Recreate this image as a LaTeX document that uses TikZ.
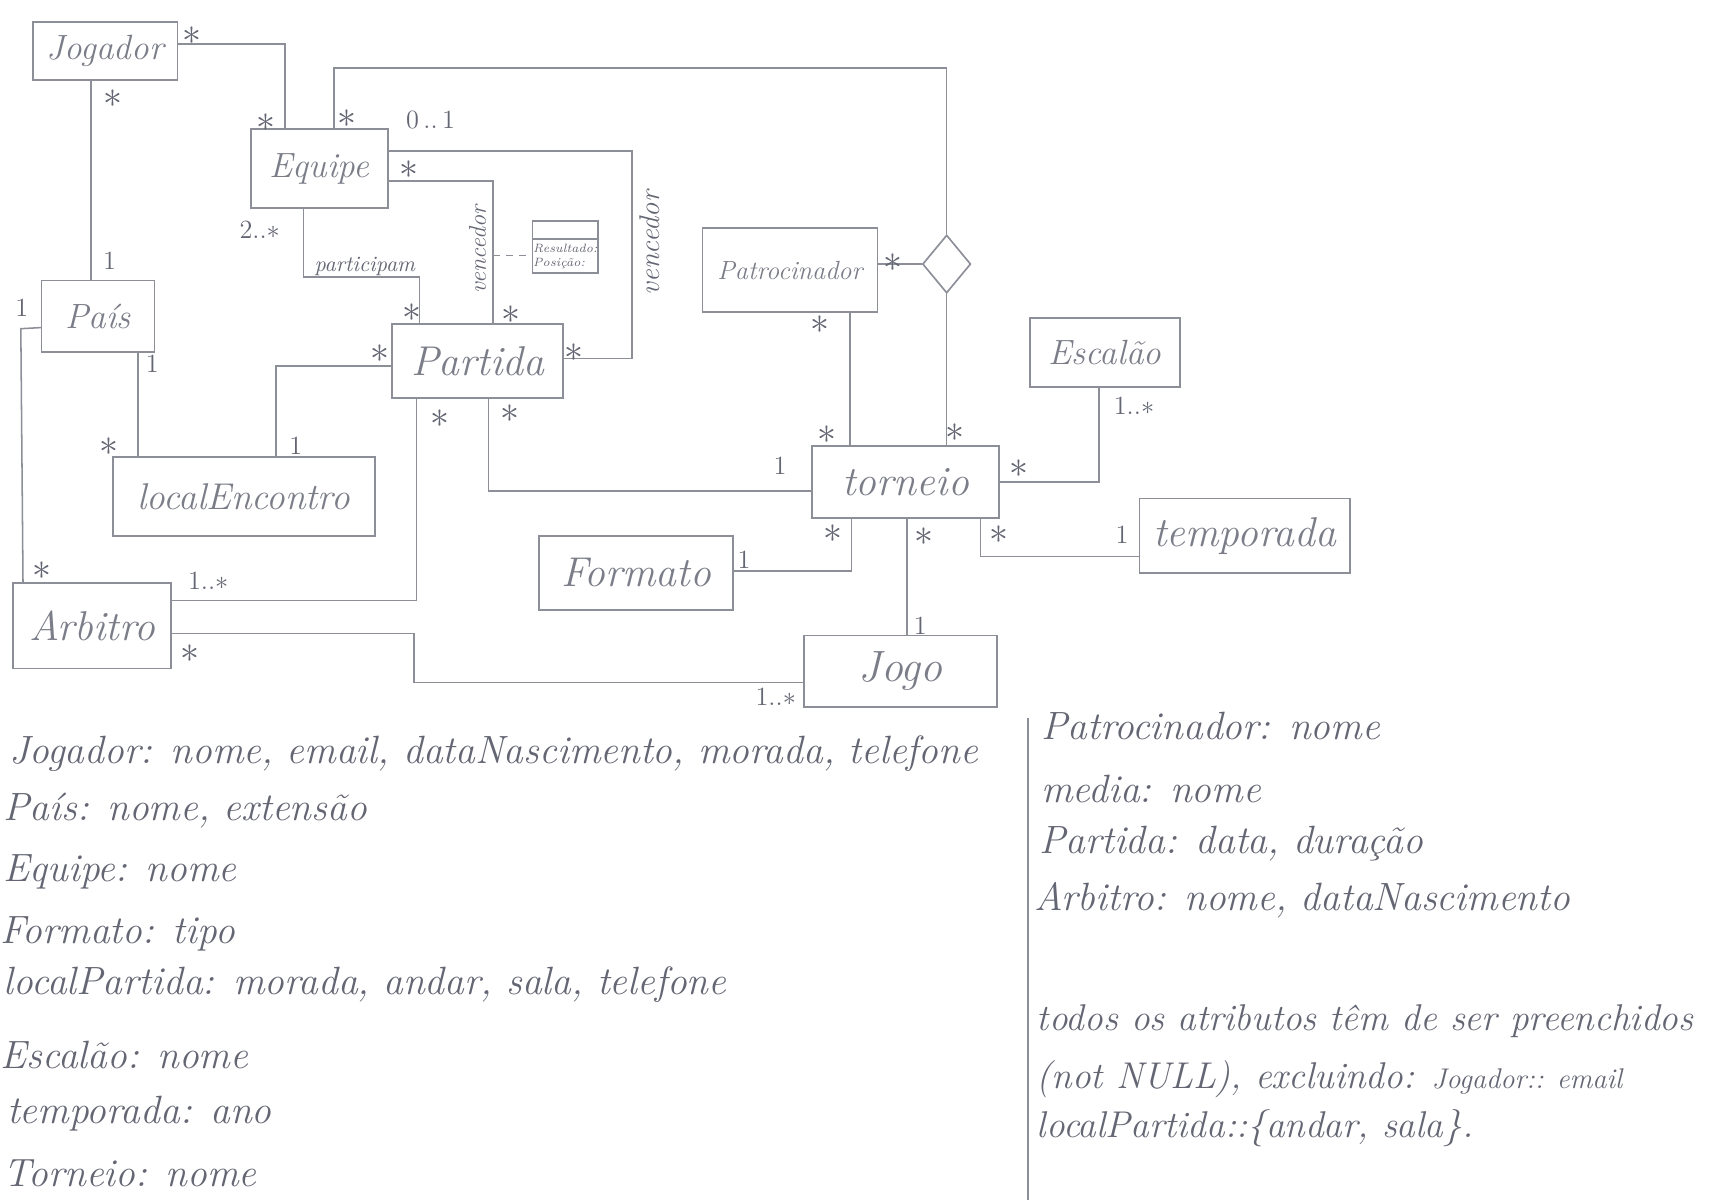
\documentclass[tikz,border=0pt]{standalone}
\usetikzlibrary{shapes.geometric}
\definecolor{pencil}{RGB}{140,142,152}
\definecolor{lead}{RGB}{100,102,115}
\begin{document}
\begin{tikzpicture}[x=0.5pt,y=-0.5pt,
  cls/.style={draw=pencil, line width=0.75pt, inner sep=0pt, text=lead!85!white},
  fs/.style={font=\fontsize{#1}{#1}\selectfont\itshape},
  link/.style={draw=pencil, line width=0.7pt},
  star/.style={text=lead, inner sep=0pt, font=\fontsize{17}{17}\selectfont},
  mult/.style={text=lead, inner sep=0pt, font=\fontsize{12}{12}\selectfont},
  role/.style={text=lead, inner sep=0pt, font=\fontsize{#1}{#1}\selectfont\itshape},
  note/.style={text=lead, inner sep=0pt, anchor=west, font=\fontsize{#1}{#1}\selectfont\itshape}
]
\useasboundingbox (0,0) rectangle (1568,1095);
\fill[white] (0,0) rectangle (1568,1095);

% ---------------- classes ----------------
\node[cls, fs=16, minimum width=66pt,   minimum height=26.5pt] (jog) at (96,46.5)   {Jogador};
\node[cls, fs=16, minimum width=62.5pt, minimum height=36pt]   (equ) at (291.5,154) {Equipe};
\node[cls, fs=16, minimum width=51.5pt, minimum height=32.5pt] (pai) at (89.5,288.5){País};
\node[cls, fs=19, minimum width=78pt,   minimum height=33.5pt] (par) at (436,329.5) {Partida};
\node[cls, fs=17, minimum width=119.5pt,minimum height=36pt]   (loc) at (222.5,453) {localEncontro};
\node[cls, fs=19, minimum width=72pt,   minimum height=39pt]   (arb) at (84,571)    {Arbitro};
\node[cls, fs=12, minimum width=80pt,   minimum height=38.5pt] (pat) at (721,246.5) {Patrocinador};
\node[cls, fs=16, minimum width=68.5pt, minimum height=31.5pt] (esc) at (1008.5,321.5) {Escalão};
\node[cls, fs=19, minimum width=85.5pt, minimum height=33pt]   (tor) at (826.5,440) {torneio};
\node[cls, fs=19, minimum width=88.5pt, minimum height=34pt]   (frm) at (580.5,523) {Formato};
\node[cls, fs=19, minimum width=96pt,   minimum height=34pt]   (tem) at (1136,489)  {temporada};
\node[cls, fs=20, minimum width=88pt,   minimum height=32.5pt] (jgo) at (822,612.5) {Jogo};

% association class of the inner "vencedor" link
\node[cls, minimum width=30pt, minimum height=23.5pt] (acbox) at (516,225.5) {};
\draw[link] (acbox.west |- 0,218) -- (acbox.east |- 0,218);
\node[text=lead, inner sep=0pt, align=left, font=\fontsize{5.5}{6.5}\selectfont\itshape]
  (acattr) at (516,234) {Resultado:\\Posição:};

% n-ary association diamond
\node[diamond, draw=pencil, line width=0.75pt, minimum width=22pt, minimum height=26.5pt, inner sep=0pt]
  (dia) at (864,241) {};

% ---------------- connectors ----------------
\draw[link] (jog.east |- 0,40) -| (equ.north -| 260,0);
\draw[link] (jog.south -| 83,0) -- (pai.north -| 83,0);
\draw[link] (equ.north -| 305,0) |- (dia.north |- 0,62) -- (dia.north);
\draw[link] (dia.south) -- (tor.north -| dia.south);
\draw[link] (pat.east |- dia.west) -- (dia.west);
\draw[link] (equ.east |- 0,138) -| (577,327) -- (par.east |- 0,327);
\draw[link] (equ.east |- 0,165) -| (par.north -| 450,0);
\coordinate (acjoin) at (450,233);
\draw[link, dashed] (acjoin) -- (acbox.west |- acjoin);
\draw[link] (equ.south -| 277,0) |- (383,253) -- (par.north -| 383,0);
\draw[link] (pai.west |- 0,299) -- (19,300) -- (arb.north -| 21,0);
\draw[link] (pai.south -| 126,0) -- (loc.north -| 126,0);
\draw[link] (loc.north -| 252,0) |- (par.west |- 0,334);
\draw[link] (par.south -| 380,0) |- (arb.east |- 0,548);
\draw[link] (par.south -| 446,0) |- (tor.west |- 0,448);
\draw[link] (arb.east |- 0,578) -- (378,578) |- (jgo.west |- 0,623);
\draw[link] (pat.south -| 776,0) -- (tor.north -| 776,0);
\draw[link] (esc.south -| 1003,0) |- (tor.east |- 0,440);
\draw[link] (frm.east |- 0,521) -| (tor.south -| 777,0);
\draw[link] (tor.south -| 828,0) -- (jgo.north -| 828,0);
\draw[link] (tor.south -| 895,0) |- (tem.west |- 0,508);

% ---------------- multiplicities ----------------
\foreach \x/\y [count=\i] in {175/33, 243/112, 103/90, 317/108, 373/155, 376/285,
    466/287, 347/323, 524/322, 99/408, 402/382, 465/378, 38/521, 173/597,
    748/296, 815/240, 755/397, 872/395, 930/428, 760/487, 843/490, 912/488}
  \node[star] (st\i) at (\x,\y) {$\ast$};
\foreach \x/\y [count=\i] in {100/238, 20/281, 139/332, 270/407, 712/425,
    679/511, 1024/488, 840/571}
  \node[mult] (one\i) at (\x,\y) {1};
\node[mult] (m01) at (393,110) {0\,..\,1};
\node[mult] (m2n) at (237,210) {2..$\ast$};
\node[mult] (m1a) at (190,530) {1..$\ast$};
\node[mult] (m1b) at (1035,370) {1..$\ast$};
\node[mult] (m1c) at (708,636) {1..$\ast$};

% ---------------- role names ----------------
\node[role=11, rotate=90] (ven1) at (436,228) {vencedor};
\node[role=13, rotate=90] (ven2) at (593,222) {vencedor};
\node[role=10] (part) at (333,243) {participam};

% ---------------- attribute notes ----------------
\draw[link] (938,655) -- (938,1095);
\node[note=18] (n1) at (8,688)  {Jogador: nome, email, dataNascimento, morada, telefone};
\node[note=18] (n2) at (3,740)  {País: nome, extensão};
\node[note=18] (n3) at (3,796)  {Equipe: nome};
\node[note=18] (n4) at (0,852)  {Formato: tipo};
\node[note=18] (n5) at (3,899)  {localPartida: morada, andar, sala, telefone};
\node[note=18] (n6) at (0,963)  {Escalão: nome};
\node[note=18] (n7) at (6,1016) {temporada: ano};
\node[note=18] (n8) at (3,1071) {Torneio: nome};

\node[note=18] (r1) at (950,663)  {Patrocinador: nome};
\node[note=18] (r2) at (950,720)  {media: nome};
\node[note=18] (r3) at (948,770)  {Partida: data, duração};
\node[note=18] (r4) at (944,822)  {Arbitro: nome, dataNascimento};
\node[note=17] (r5) at (946,932)  {todos os atributos têm de ser preenchidos};
\node[note=17] (r6) at (946,985)  {(not NULL), excluindo: {\fontsize{13}{13}\selectfont Jogador:: email}};
\node[note=17] (r7) at (946,1030) {localPartida::\{andar, sala\}.};
\end{tikzpicture}
\end{document}
